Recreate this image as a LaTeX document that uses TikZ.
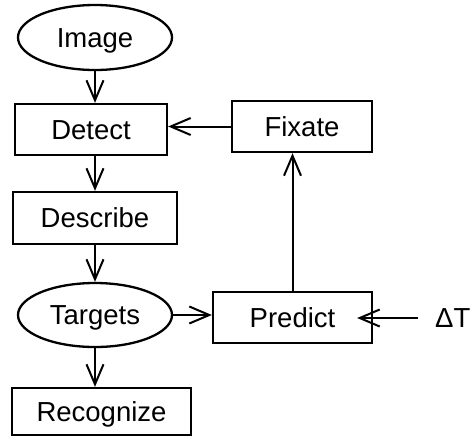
\documentclass[tikz,border=0pt]{standalone}
\usepackage{fontspec}
\setmainfont{Liberation Sans}
\usetikzlibrary{shapes.geometric,arrows.meta}
\begin{document}
\begin{tikzpicture}[x=1pt,y=-1pt,
  every node/.style={font=\fontsize{27.5}{32}\selectfont, inner sep=0pt, line width=2.3pt, text height=19.7pt, text depth=0pt},
  boxnode/.style={draw, rectangle},
  ovalnode/.style={draw, ellipse, minimum width=154pt, minimum height=65pt},
  arr/.style={line width=2pt, -{Straight Barb[length=20pt,width=17pt,line width=2pt]}}]
\useasboundingbox (0,0) rectangle (470,439);
\node[ovalnode] (Image) at (95,37.5) {Image};
\node[boxnode, minimum width=152pt, minimum height=51pt] (Detect) at (91,129.5) {Detect};
\node[boxnode, minimum width=164pt, minimum height=52pt] (Describe) at (95,218) {Describe};
\node[ovalnode, minimum height=64pt] (Targets) at (95,315) {Targets};
\node[boxnode, minimum width=179pt, minimum height=47pt] (Recognize) at (101.5,411.5) {Recognize};
\node[boxnode, minimum width=140pt, minimum height=51pt] (Fixate) at (302,126.5) {Fixate};
\node[boxnode, minimum width=159pt, minimum height=51pt] (Predict) at (292.5,317.5) {Predict};
\node[anchor=west] (DT) at (434,318) {ΔT};
\draw[arr] (Image.south) -- (Image.south |- Detect.north);
\draw[arr] (Describe.north |- Detect.south) -- (Describe.north);
\draw[arr] (Describe.south) -- (Targets.north);
\draw[arr] (Targets.south) -- (Targets.south |- Recognize.north);
\draw[arr] (Targets.east) -- (Targets.east -| Predict.west);
\draw[arr] (Predict.north) -- (Predict.north |- Fixate.south);
\draw[arr] (Fixate.west) -- (Fixate.west -| Detect.east);
\draw[arr] ([xshift=-16pt]DT.west) -- ([xshift=-16pt]DT.west -| Predict.east);
\end{tikzpicture}
\end{document}
